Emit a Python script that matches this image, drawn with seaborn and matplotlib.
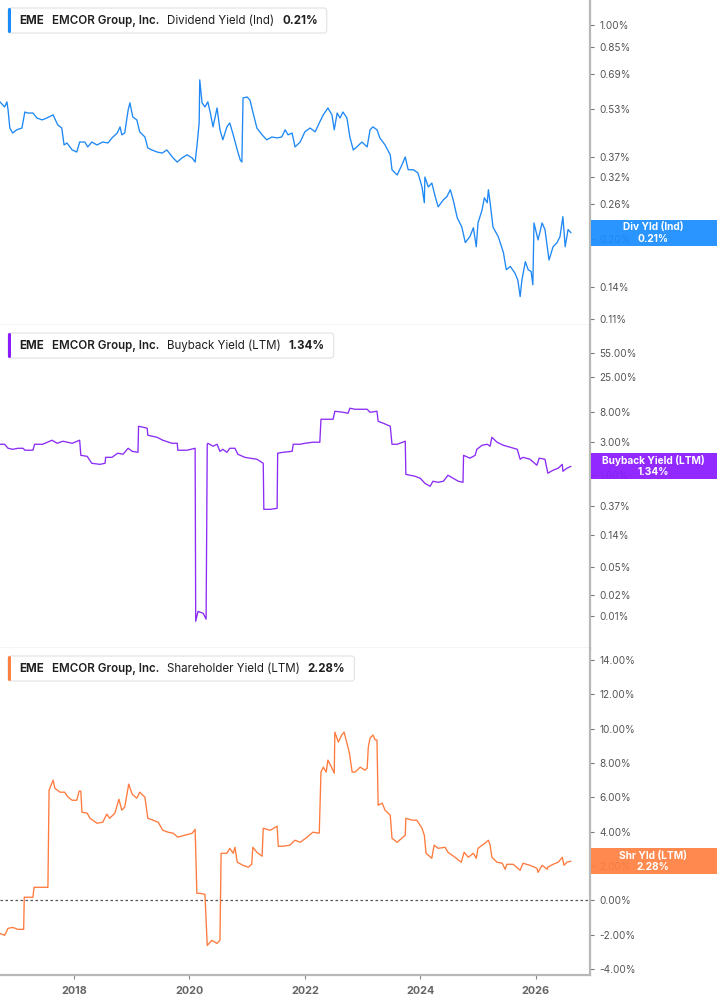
"""
EME - dividend, buyback and shareholder yield panels
"""

import matplotlib
matplotlib.use("Agg")
import matplotlib.pyplot as plt
from matplotlib.patches import FancyBboxPatch, Rectangle
from matplotlib.transforms import IdentityTransform
from matplotlib.ticker import NullLocator
import seaborn as sns

# Dividend Yield (Ind), %
div_years = [2016.72, 2016.80, 2016.84, 2016.86, 2016.89, 2016.94, 2017.01, 2017.10, 2017.15, 2017.20,
             2017.29, 2017.36, 2017.45, 2017.53, 2017.64, 2017.72, 2017.79, 2017.83, 2017.88, 2017.97,
             2018.05, 2018.10, 2018.19, 2018.24, 2018.31, 2018.40, 2018.50, 2018.59, 2018.66, 2018.75,
             2018.80, 2018.83, 2018.88, 2018.94, 2018.97, 2019.02, 2019.09, 2019.14, 2019.23, 2019.28,
             2019.35, 2019.44, 2019.53, 2019.61, 2019.72, 2019.79, 2019.87, 2019.96, 2020.05, 2020.10,
             2020.13, 2020.17, 2020.18, 2020.22, 2020.27, 2020.32, 2020.36, 2020.41, 2020.48, 2020.53,
             2020.58, 2020.65, 2020.70, 2020.76, 2020.83, 2020.88, 2020.91, 2020.93, 2021.00, 2021.05,
             2021.10, 2021.17, 2021.26, 2021.34, 2021.43, 2021.52, 2021.60, 2021.66, 2021.71, 2021.78,
             2021.83, 2021.92, 2022.00, 2022.09, 2022.18, 2022.26, 2022.32, 2022.40, 2022.47, 2022.51,
             2022.56, 2022.61, 2022.66, 2022.73, 2022.78, 2022.84, 2022.90, 2022.99, 2023.08, 2023.13,
             2023.18, 2023.25, 2023.30, 2023.39, 2023.48, 2023.51, 2023.60, 2023.68, 2023.74, 2023.79,
             2023.88, 2023.96, 2024.03, 2024.07, 2024.08, 2024.14, 2024.20, 2024.26, 2024.31, 2024.40,
             2024.46, 2024.52, 2024.57, 2024.64, 2024.72, 2024.78, 2024.86, 2024.92, 2024.97, 2025.00,
             2025.07, 2025.11, 2025.16, 2025.18, 2025.21, 2025.26, 2025.35, 2025.44, 2025.49, 2025.56,
             2025.64, 2025.69, 2025.73, 2025.76, 2025.82, 2025.87, 2025.92, 2025.95, 2025.97, 2026.04,
             2026.11, 2026.16, 2026.20, 2026.23, 2026.30, 2026.37, 2026.42, 2026.47, 2026.51, 2026.56,
             2026.61]
div_yield = [0.561, 0.540, 0.561, 0.528, 0.461, 0.444, 0.455, 0.461, 0.520, 0.516,
             0.516, 0.497, 0.490, 0.497, 0.509, 0.472, 0.461, 0.406, 0.412, 0.391,
             0.385, 0.415, 0.415, 0.400, 0.415, 0.406, 0.415, 0.412, 0.428, 0.444,
             0.465, 0.438, 0.444, 0.528, 0.557, 0.501, 0.490, 0.448, 0.431, 0.397,
             0.391, 0.385, 0.382, 0.391, 0.368, 0.357, 0.368, 0.377, 0.368, 0.357,
             0.400, 0.479, 0.662, 0.557, 0.540, 0.561, 0.520, 0.465, 0.536, 0.455,
             0.422, 0.465, 0.479, 0.438, 0.391, 0.363, 0.357, 0.578, 0.582, 0.569,
             0.520, 0.461, 0.438, 0.422, 0.431, 0.428, 0.431, 0.455, 0.438, 0.444,
             0.400, 0.415, 0.448, 0.461, 0.448, 0.483, 0.509, 0.536, 0.509, 0.455,
             0.516, 0.497, 0.520, 0.497, 0.431, 0.391, 0.400, 0.415, 0.400, 0.455,
             0.465, 0.455, 0.428, 0.406, 0.377, 0.337, 0.324, 0.349, 0.371, 0.337,
             0.337, 0.329, 0.296, 0.263, 0.319, 0.296, 0.305, 0.275, 0.255, 0.269,
             0.275, 0.290, 0.269, 0.235, 0.219, 0.195, 0.204, 0.218, 0.189, 0.226,
             0.249, 0.273, 0.263, 0.290, 0.263, 0.219, 0.204, 0.181, 0.159, 0.163,
             0.155, 0.147, 0.130, 0.147, 0.169, 0.159, 0.157, 0.142, 0.226, 0.199,
             0.226, 0.215, 0.189, 0.171, 0.189, 0.195, 0.204, 0.237, 0.189, 0.215,
             0.210]

# Buyback Yield (LTM), %
bb_years = [2016.72, 2016.80, 2016.86, 2016.94, 2017.03, 2017.12, 2017.15, 2017.29, 2017.32, 2017.46,
            2017.62, 2017.71, 2017.81, 2017.97, 2018.10, 2018.12, 2018.23, 2018.31, 2018.45, 2018.54,
            2018.55, 2018.66, 2018.76, 2018.85, 2018.94, 2019.01, 2019.11, 2019.12, 2019.20, 2019.27,
            2019.28, 2019.44, 2019.54, 2019.70, 2019.79, 2019.80, 2019.96, 2020.10, 2020.11, 2020.15,
            2020.24, 2020.29, 2020.31, 2020.32, 2020.41, 2020.48, 2020.53, 2020.58, 2020.65, 2020.70,
            2020.79, 2020.84, 2020.96, 2021.05, 2021.17, 2021.28, 2021.29, 2021.40, 2021.52, 2021.53,
            2021.62, 2021.78, 2021.80, 2021.92, 2022.00, 2022.14, 2022.26, 2022.28, 2022.38, 2022.49,
            2022.52, 2022.66, 2022.75, 2022.78, 2022.87, 2022.99, 2023.08, 2023.13, 2023.25, 2023.27,
            2023.36, 2023.48, 2023.51, 2023.60, 2023.74, 2023.75, 2023.91, 2024.00, 2024.08, 2024.17,
            2024.22, 2024.31, 2024.40, 2024.48, 2024.57, 2024.66, 2024.74, 2024.75, 2024.86, 2024.95,
            2024.98, 2025.07, 2025.16, 2025.21, 2025.24, 2025.33, 2025.44, 2025.56, 2025.68, 2025.73,
            2025.78, 2025.90, 2026.02, 2026.06, 2026.16, 2026.21, 2026.30, 2026.39, 2026.46, 2026.47,
            2026.54, 2026.61]
bb_yield = [2.76, 2.76, 2.42, 2.34, 2.42, 2.42, 2.27, 2.27, 2.76, 2.76,
            3.15, 2.85, 3.05, 2.85, 3.15, 1.92, 1.86, 1.48, 1.43, 1.48,
            1.80, 1.80, 2.06, 1.99, 2.42, 2.19, 2.12, 4.98, 4.82, 4.66,
            3.71, 3.47, 3.15, 2.85, 2.85, 2.27, 2.27, 2.42, 0.0084, 0.0116,
            0.0109, 0.0090, 2.76, 2.85, 2.59, 2.76, 2.19, 2.34, 2.12, 2.42,
            2.42, 1.99, 1.80, 1.75, 1.69, 1.48, 0.328, 0.328, 0.339, 2.06,
            2.12, 2.19, 2.76, 2.76, 2.85, 2.95, 2.95, 6.26, 6.26, 6.26,
            8.13, 7.87, 7.62, 8.98, 8.68, 8.68, 8.68, 7.87, 8.13, 5.86,
            5.49, 4.98, 2.76, 2.76, 3.05, 1.03, 0.968, 0.906, 0.769, 0.698,
            0.822, 0.795, 0.822, 1.00, 0.906, 0.822, 0.795, 1.92, 1.75, 1.92,
            2.34, 2.67, 2.76, 2.59, 3.47, 2.95, 2.67, 2.50, 2.34, 1.69,
            1.80, 1.69, 1.39, 1.75, 1.69, 1.07, 1.18, 1.26, 1.43, 1.14,
            1.26, 1.34]

# Shareholder Yield (LTM), %
sh_years = [2016.72, 2016.80, 2016.86, 2016.94, 2017.03, 2017.13, 2017.14, 2017.29, 2017.31, 2017.55,
            2017.57, 2017.64, 2017.67, 2017.76, 2017.84, 2017.90, 2017.97, 2018.05, 2018.09, 2018.12,
            2018.14, 2018.23, 2018.28, 2018.40, 2018.50, 2018.57, 2018.62, 2018.71, 2018.78, 2018.83,
            2018.88, 2018.95, 2019.01, 2019.09, 2019.14, 2019.23, 2019.28, 2019.37, 2019.46, 2019.54,
            2019.63, 2019.72, 2019.80, 2019.92, 2020.05, 2020.10, 2020.13, 2020.18, 2020.27, 2020.31,
            2020.39, 2020.48, 2020.53, 2020.55, 2020.65, 2020.70, 2020.76, 2020.79, 2020.83, 2020.93,
            2021.02, 2021.08, 2021.10, 2021.17, 2021.26, 2021.28, 2021.40, 2021.52, 2021.54, 2021.62,
            2021.74, 2021.83, 2021.92, 2022.04, 2022.14, 2022.25, 2022.28, 2022.32, 2022.37, 2022.40,
            2022.47, 2022.51, 2022.52, 2022.58, 2022.64, 2022.68, 2022.73, 2022.77, 2022.82, 2022.87,
            2022.96, 2023.04, 2023.08, 2023.10, 2023.13, 2023.18, 2023.22, 2023.25, 2023.27, 2023.34,
            2023.39, 2023.48, 2023.51, 2023.60, 2023.68, 2023.74, 2023.75, 2023.86, 2023.94, 2024.03,
            2024.07, 2024.10, 2024.20, 2024.24, 2024.31, 2024.43, 2024.48, 2024.60, 2024.71, 2024.76,
            2024.83, 2024.92, 2024.97, 2025.00, 2025.07, 2025.12, 2025.18, 2025.21, 2025.24, 2025.33,
            2025.42, 2025.47, 2025.50, 2025.61, 2025.73, 2025.78, 2025.90, 2026.02, 2026.04, 2026.11,
            2026.20, 2026.21, 2026.30, 2026.39, 2026.46, 2026.49, 2026.54, 2026.61]
sh_yield = [-1.93, -2.04, -1.63, -1.58, -1.69, -1.69, 0.18, 0.18, 0.76, 0.76,
            6.42, 7.00, 6.53, 6.30, 6.30, 6.01, 5.83, 5.83, 6.36, 6.36,
            5.13, 5.08, 4.78, 4.49, 4.55, 5.02, 4.78, 5.08, 5.89, 5.25,
            5.43, 6.77, 6.18, 5.95, 6.30, 6.01, 4.78, 4.67, 4.55, 4.08,
            3.97, 3.91, 3.68, 3.79, 3.91, 4.14, 0.41, 0.41, 0.35, -2.63,
            -2.33, -2.51, -2.33, 2.74, 2.74, 3.03, 2.74, 3.09, 2.22, 2.04,
            1.93, 2.10, 3.09, 2.80, 2.57, 4.20, 4.08, 4.32, 3.15, 3.15,
            3.21, 3.50, 3.38, 3.68, 3.97, 3.91, 7.47, 7.76, 7.47, 8.17,
            7.70, 7.41, 9.80, 9.22, 9.63, 9.80, 9.16, 8.63, 7.47, 7.47,
            7.76, 7.58, 7.70, 8.93, 9.45, 9.63, 9.34, 9.34, 5.54, 5.66,
            5.25, 4.96, 3.62, 3.38, 3.62, 3.79, 4.78, 4.67, 4.67, 4.20,
            3.79, 2.74, 2.45, 3.21, 3.03, 3.09, 2.80, 2.51, 2.22, 2.80,
            2.51, 2.74, 2.45, 3.03, 3.21, 3.33, 3.50, 3.21, 2.51, 2.22,
            2.16, 1.81, 2.10, 2.10, 1.75, 2.16, 2.04, 1.87, 1.63, 2.04,
            1.81, 1.93, 2.10, 2.22, 2.51, 2.04, 2.22, 2.28]

div_ticks = [1.00, 0.85, 0.69, 0.53, 0.37, 0.32, 0.26, 0.20, 0.14, 0.11]
bb_ticks = [55, 25, 8, 3, 1, 0.37, 0.14, 0.05, 0.02, 0.01]
sh_ticks = [14, 12, 10, 8, 6, 4, 2, 0, -2, -4]
year_ticks = [2018, 2020, 2022, 2024, 2026]

W, H = 717, 1005
PLOT_R = 590

sns.set_theme(style="white")
plt.rcParams['font.family'] = ['Inter', 'DejaVu Sans']

fig = plt.figure(figsize=(W / 100, H / 100), dpi=100)
fig.patch.set_facecolor("white")
px = IdentityTransform()

panels = [
    dict(years=div_years, vals=div_yield, ticks=div_ticks, log=True, ylim=(0.105, 1.206),
         top=0, bottom=325, color="#1e88f5", box="#1a8cff",
         metric="Dividend Yield (Ind)", short="Div Yld (Ind)"),
    dict(years=bb_years, vals=bb_yield, ticks=bb_ticks, log=True, ylim=(0.0035, 137),
         top=325, bottom=648, color="#8b2cf5", box="#8a1aff",
         metric="Buyback Yield (LTM)", short="Buyback Yield (LTM)"),
    dict(years=sh_years, vals=sh_yield, ticks=sh_ticks, log=False, ylim=(-4.35, 14.7),
         top=648, bottom=975, color="#ff7a3d", box="#ff8040",
         metric="Shareholder Yield (LTM)", short="Shr Yld (LTM)"),
]

axes = []
for i, p in enumerate(panels):
    ax = fig.add_axes([0, 1 - p["bottom"] / H, PLOT_R / W, (p["bottom"] - p["top"]) / H])
    sns.lineplot(x=p["years"], y=p["vals"], ax=ax, color=p["color"], lw=0.95)
    if p["log"]:
        ax.set_yscale("log")
    ax.set_xlim(2016.72, 2026.94)
    ax.set_ylim(*p["ylim"])
    ax.yaxis.tick_right()
    ax.set_yticks(p["ticks"])
    ax.set_yticklabels([f"{t:.2f}%" for t in p["ticks"]])
    ax.yaxis.set_minor_locator(NullLocator())
    ax.tick_params(axis="y", which="major", right=True, left=False, direction="out",
                   length=3, width=0.8, color="#777777", labelsize=7.2,
                   labelcolor="#555555", pad=4)
    for side in ["top", "left"]:
        ax.spines[side].set_visible(False)
    ax.spines["right"].set_color("#b8b8b8")
    ax.spines["right"].set_linewidth(1.6)
    ax.spines["bottom"].set_color("#cfcfcf")
    ax.spines["bottom"].set_linewidth(1.0)
    ax.set_xlabel("")
    ax.set_ylabel("")
    if i < 2:
        ax.set_xticks([])
    else:
        ax.spines["bottom"].set_color("#b8b8b8")
        ax.spines["bottom"].set_linewidth(1.6)
        ax.axhline(0, color="#555555", ls=(0, (2, 2)), lw=0.9, zorder=1)
        ax.set_xticks(year_ticks)
        ax.set_xticklabels([str(y) for y in year_ticks])
        ax.tick_params(axis="x", bottom=True, direction="out", length=3, width=0.8,
                       color="#888888", labelsize=7.8, labelcolor="#666666", pad=5)
        for lab in ax.get_xticklabels():
            lab.set_fontweight("bold")
    ax.set_facecolor("white")
    axes.append(ax)

renderer = fig.canvas.get_renderer()

# header boxes (upper left of each panel)
for p in panels:
    yc = H - (p["top"] + 20.5)
    parts = [("EME", "bold"), ("EMCOR Group, Inc.", "semibold"),
             (p["metric"], "normal"), (f"{p['vals'][-1]:.2f}%", "bold")]
    x = 19
    for txt, wt in parts:
        t = fig.text(x, yc, txt, transform=px, ha="left", va="center",
                     fontsize=8.3, fontweight=wt, color="#1f1f1f", zorder=6)
        x += t.get_window_extent(renderer).width + 8
    box_w = x - 8 + 1
    fig.add_artist(FancyBboxPatch((8, yc - 12.5), box_w, 25, transform=px,
                                  boxstyle="round,pad=0,rounding_size=3",
                                  fc="white", ec="#e2e2e2", lw=0.8, zorder=5))
    fig.add_artist(FancyBboxPatch((8, yc - 12.5), 3, 25, transform=px,
                                  boxstyle="round,pad=0,rounding_size=1.5",
                                  fc=p["box"], ec="none", zorder=5.5))

# last value tags on the right axis
for p, ax in zip(panels, axes):
    last = p["vals"][-1]
    yd = ax.transData.transform((p["years"][-1], last))[1]
    fig.add_artist(Rectangle((PLOT_R + 1, yd - 13), W - PLOT_R, 26, transform=px,
                             fc=p["box"], ec="none", alpha=0.93, zorder=7))
    fig.text(653, yd + 5.5, p["short"], transform=px, ha="center", va="center",
             fontsize=7.3, fontweight="bold", color="white", zorder=8)
    fig.text(653, yd - 6, f"{last:.2f}%", transform=px, ha="center", va="center",
             fontsize=7.3, fontweight="bold", color="white", zorder=8)

fig.savefig("out.png", dpi=100, facecolor="white")
